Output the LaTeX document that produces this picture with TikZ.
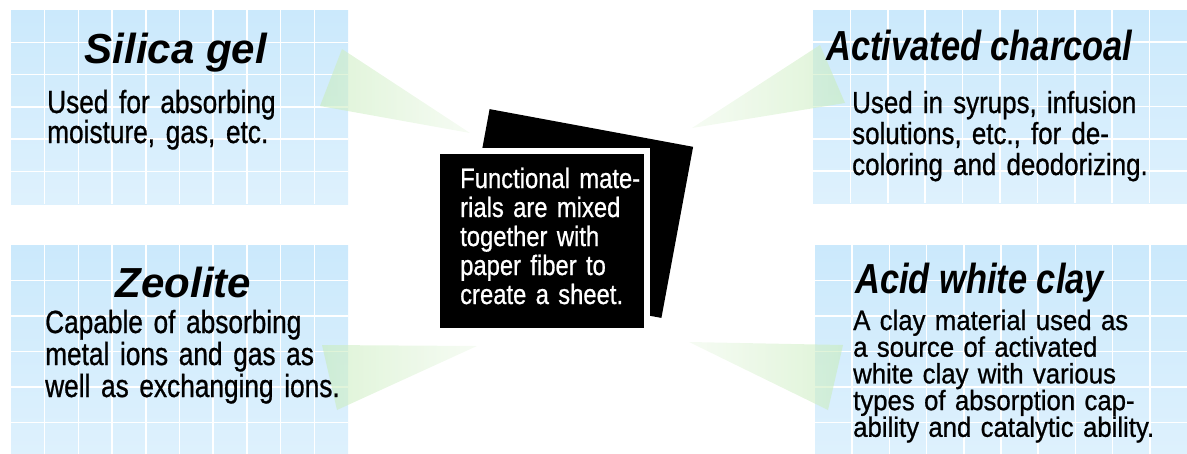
\documentclass[tikz,border=0pt]{standalone}
\usepackage{fontspec}
\setmainfont{Liberation Sans}
\newfontfamily\narrowfont{Liberation Sans}[FakeStretch=0.82, FakeBold=0.8]
\newfontfamily\narrowtitlefont{Liberation Sans}[FakeStretch=0.82]
\newfontfamily\sheetfont{Liberation Sans}[FakeStretch=0.85, FakeBold=0.8]
\newfontfamily\clayfont{Liberation Sans}[FakeStretch=0.92, FakeBold=0.8]
\definecolor{panelblue}{RGB}{203,233,252}
\definecolor{panelpale}{RGB}{222,241,253}
\definecolor{wedgegreen}{RGB}{200,236,188}
\definecolor{wedgepale}{RGB}{240,249,236}
\tikzset{panel/.style = {anchor=north west, inner sep=0, top color=panelblue, bottom color=panelpale}}
\tikzset{gridline/.style = {white, line width=1.5}}
\tikzset{wedge/.style = {opacity=0.6}}
\tikzset{sheet/.style = {fill=black, inner sep=0}}
\tikzset{title/.style = {font=\fontsize{42}{46}\selectfont\bfseries\itshape, inner sep=0, anchor=base}}
\tikzset{narrowtitle/.style = {title, anchor=base west,
                               font=\narrowtitlefont\fontsize{42}{46}\selectfont\bfseries\itshape}}
\tikzset{desc/.style = {font=\narrowfont\fontsize{32}{30}\selectfont, inner sep=0,
                        anchor=base west, text width=330, align=left}}

\newcommand{\panelgrid}[3]{%
  \foreach \i in {1,...,9}
    \draw [gridline] ([xshift=\i*#2]#1.north west) -- ([xshift=\i*#2]#1.south west);
  \foreach \j in {1,...,5}
    \draw [gridline] ([yshift=-\j*#3]#1.north west) -- ([yshift=-\j*#3]#1.north east);
}

\begin{document}
\begin{tikzpicture}[x=1pt, y=-1pt]
      \useasboundingbox (0, 0) rectangle (1187, 453);

      \node [panel, minimum width=337, minimum height=194] (silica) at (11, 10) {};
      \node [panel, minimum width=337, minimum height=212] (zeolite) at (11, 245) {};
      \node [panel, minimum width=374, minimum height=193] (charcoal) at (813, 10) {};
      \node [panel, minimum width=372, minimum height=212] (clay) at (815, 245) {};

      \panelgrid{silica}{33.7}{32.3}
      \panelgrid{zeolite}{33.7}{35.5}
      \panelgrid{charcoal}{37.4}{32.2}
      \panelgrid{clay}{37.2}{35.5}

      \shade [wedge, left color=wedgegreen, right color=wedgepale] (342, 49) -- (320, 106) -- (470, 133) -- cycle;
      \shade [wedge, left color=wedgepale, right color=wedgegreen] (692, 128) -- (820, 45) -- (845, 103) -- cycle;
      \shade [wedge, left color=wedgegreen, right color=wedgepale] (322, 345) -- (477, 346) -- (337, 410) -- cycle;
      \shade [wedge, left color=wedgepale, right color=wedgegreen] (689, 342) -- (843, 345) -- (828, 410) -- cycle;

      \node [sheet, minimum width=207, minimum height=174, rotate=-10.5] (backsheet) at (575.5, 213.5) {};
      \node [sheet, draw=white, line width=6, minimum width=210, minimum height=180] (frontsheet) at (542, 241) {};

      \node [desc, text=white, font=\sheetfont\fontsize{28}{29}\selectfont] (sheettext) at (460, 188)
        {Functional mate-\\rials are mixed\\together with\\paper fiber to\\create a sheet.};

      \node [title] (silicatitle) at (176, 63) {Silica gel};
      \node [desc] (silicatext) at (47, 113) {Used for absorbing\\moisture, gas, etc.};

      \node [title] (zeolitetitle) at (183.5, 297) {Zeolite};
      \node [desc, font=\narrowfont\fontsize{32}{32}\selectfont] (zeolitetext) at (45, 333)
        {Capable of absorbing\\metal ions and gas as\\well as exchanging ions.};

      \node [narrowtitle] (charcoaltitle) at (826, 60) {Activated charcoal};
      \node [desc, font=\sheetfont\fontsize{30.5}{31}\selectfont] (charcoaltext) at (852, 113)
        {Used in syrups, infusion\\solutions, etc., for de-\\coloring and deodorizing.};

      \node [narrowtitle] (claytitle) at (855, 293) {Acid white clay};
      \node [desc, font=\clayfont\fontsize{28}{26.7}\selectfont] (claytext) at (853, 330)
        {A clay material used as\\a source of activated\\white clay with various\\types of absorption cap-\\ability and catalytic ability.};
\end{tikzpicture}
\end{document}
